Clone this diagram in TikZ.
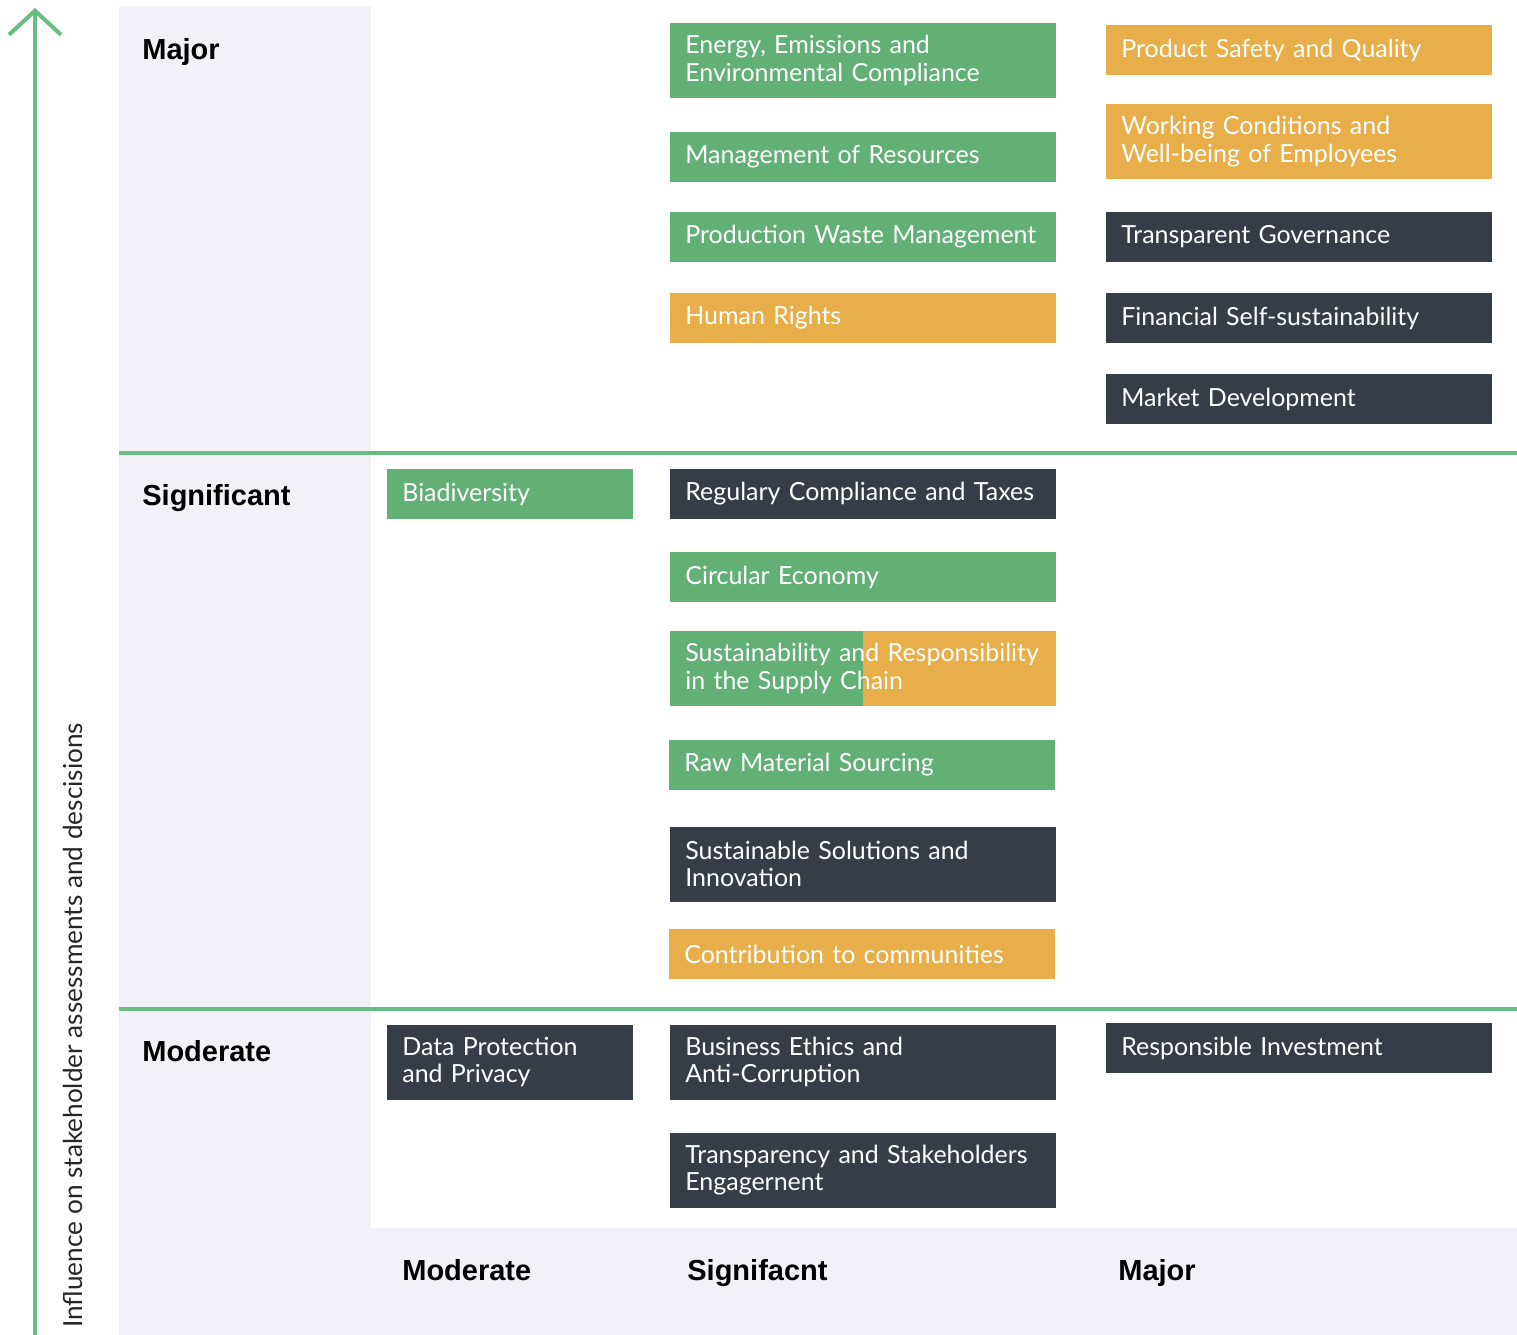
\documentclass[tikz,border=0pt]{standalone}
\usepackage{fontspec}
\setmainfont{Lato}
\newfontfamily\headfont{Liberation Sans}
\usetikzlibrary{arrows.meta}
\definecolor{GR}{HTML}{63B077}
\definecolor{OR}{HTML}{E8AE4A}
\definecolor{DK}{HTML}{373D47}
\definecolor{PN}{HTML}{F1F1F7}
\definecolor{LN}{HTML}{6ABD82}
\tikzset{
    BX/.style ={rectangle, anchor=west, inner xsep=3mm, inner ysep=0pt, align=left, text=white, font=\fontsize{14.2}{15.5}\selectfont},
    C1/.style ={BX, text width=43.2mm},
    C2/.style ={BX, text width=71.2mm},
    S1/.style ={minimum height=10mm},
    S2/.style ={minimum height=15mm},
    GB/.style ={fill=GR},
    OB/.style ={fill=OR},
    DB/.style ={fill=DK},
    HD/.style ={anchor=base west, inner sep=0pt, font=\headfont\bfseries\fontsize{16.5}{18}\selectfont},
    SPLIT/.style ={fill=GR, path picture={\fill[OR] (path picture bounding box.north) rectangle (path picture bounding box.south east);}}}

\begin{document}
\begin{tikzpicture}[x=0.2mm, y=-0.2mm]
        \useasboundingbox (0,0) rectangle (1517,1335);
        % panels and level lines
        \fill[PN] (119,6) rectangle (371,1335);
        \fill[PN] (371,1228) rectangle (1517,1335);
        \draw[LN, line width=0.8mm] (119,453) -- (1517,453);
        \draw[LN, line width=0.8mm] (119,1009) -- (1517,1009);
        % axis
        \coordinate (a0) at (35,1335);
        \coordinate (a1) at (35,8);
        \draw[LN, line width=0.8mm, -{Straight Barb[length=4.8mm, width=10.4mm, line width=0.8mm]}] (a0) -- (a1);
        \node[anchor=west, rotate=90, inner sep=0pt, text=black!85, font=\fontsize{14.9}{16}\selectfont] (ax) at (73,1328) {Influence on stakeholder assessments and descisions};
        % level headings
        \node[HD] (h1) at (142,59) {Major};
        \node[HD] (h2) at (142,505) {Significant};
        \node[HD] (h3) at (142,1061) {Moderate};
        \node[HD] (b1) at (402,1280) {Moderate};
        \node[HD] (b2) at (687,1280) {Signifacnt};
        \node[HD] (b3) at (1118,1280) {Major};
        % major
        \node[C2,S2,GB] (1) at (670,60.5) {Energy, Emissions and\\Environmental Compliance};
        \node[C2,S1,GB] (2) at (670,157) {Management of Resources};
        \node[C2,S1,GB] (3) at (670,237) {Production Waste Management};
        \node[C2,S1,OB] (4) at (670,318) {Human Rights};
        \node[C2,S1,OB] (5) at (1106,50) {Product Safety and Quality};
        \node[C2,S2,OB] (6) at (1106,141.5) {Working Conditions and\\Well-being of Employees};
        \node[C2,S1,DB] (7) at (1106,237) {Transparent Governance};
        \node[C2,S1,DB] (8) at (1106,318) {Financial Self-sustainability};
        \node[C2,S1,DB] (9) at (1106,399) {Market Development};
        % significant
        \node[C1,S1,GB] (10) at (387,494) {Biadiversity};
        \node[C2,S1,DB] (11) at (670,494) {Regulary Compliance and Taxes};
        \node[C2,S1,GB] (12) at (670,577) {Circular Economy};
        \node[C2,S2,SPLIT] (13) at (670,668.5) {Sustainability and Responsibility\\in the Supply Chain};
        \node[C2,S1,GB] (14) at (669,765) {Raw Material Sourcing};
        \node[C2,S2,DB] (15) at (670,864) {Sustainable Solutions and\\Innovation};
        \node[C2,S1,OB] (16) at (669,954) {Contribution to communities};
        % moderate
        \node[C1,S2,DB] (17) at (387,1062) {Data Protection\\and Privacy};
        \node[C2,S2,DB] (18) at (670,1062) {Business Ethics and\\Anti-Corruption};
        \node[C2,S2,DB] (19) at (670,1170) {Transparency and Stakeholders\\Engagernent};
        \node[C2,S1,DB] (20) at (1106,1048) {Responsible Investment};
    \end{tikzpicture}
\end{document}
